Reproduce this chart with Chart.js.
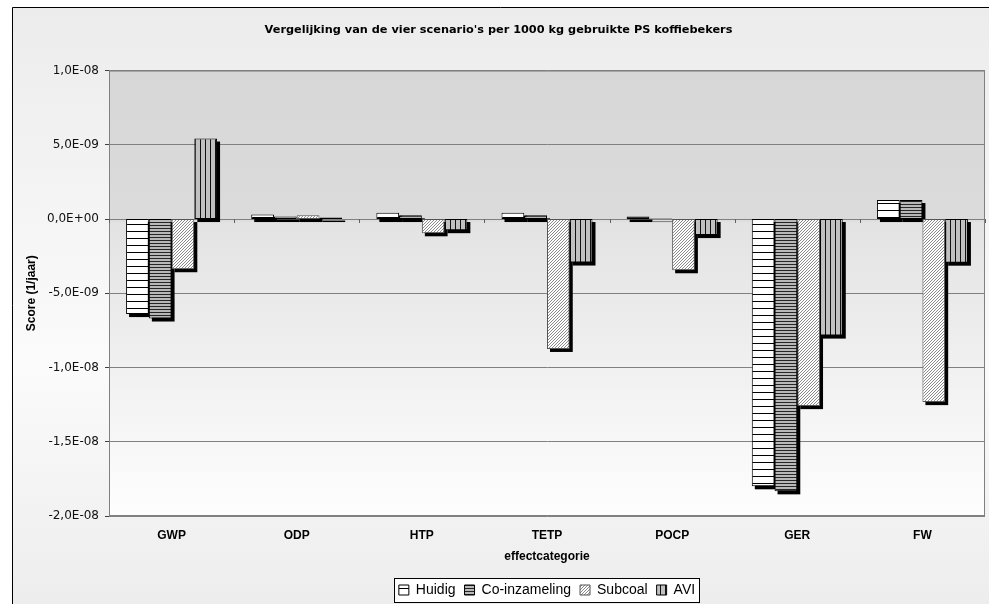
<!DOCTYPE html>
<html lang="nl">
<head>
<meta charset="UTF-8">
<title>Vergelijking van de vier scenario's</title>
<script src="https://cdn.jsdelivr.net/npm/chart.js"></script>
<style>
  body { margin: 0; background: #fff; }
  canvas { display: block; }
</style>
</head>
<body>
<canvas id="scenarioChart" width="989" height="604"></canvas>
<script>
const categories = ['GWP', 'ODP', 'HTP', 'TETP', 'POCP', 'GER', 'FW'];
const huidig = [-6.4e-9, 0.3e-9, 0.42e-9, 0.42e-9, 0.17e-9, -1.80e-8, 1.28e-9];
const coInzameling = [-6.7e-9, 0.17e-9, 0.25e-9, 0.25e-9, 0.03e-9, -1.834e-8, 1.28e-9];
const subcoal = [-3.38e-9, 0.25e-9, -0.96e-9, -8.75e-9, -3.45e-9, -1.26e-8, -1.233e-8];
const avi = [5.42e-9, 0.1e-9, -0.75e-9, -2.93e-9, -1.08e-9, -7.85e-9, -2.94e-9];

const canvas = document.getElementById('scenarioChart');
const ctx = canvas.getContext('2d');

// small tiles for the Excel-like fill patterns
function makePattern(w, h, paint) {
    const tile = document.createElement('canvas');
    tile.width = w;
    tile.height = h;
    paint(tile.getContext('2d'));
    return ctx.createPattern(tile, 'repeat');
}

const fillHuidig = makePattern(1, 7, g => {
    g.fillStyle = '#fff'; g.fillRect(0, 0, 1, 7);
    g.fillStyle = '#000'; g.fillRect(0, 0, 1, 1);
});
const fillCoInz = makePattern(1, 3, g => {
    g.fillStyle = '#b8b8b8'; g.fillRect(0, 0, 1, 3);
    g.fillStyle = '#262626'; g.fillRect(0, 0, 1, 1);
});
const fillSubcoal = makePattern(3, 3, g => {
    g.fillStyle = '#fff'; g.fillRect(0, 0, 3, 3);
    g.fillStyle = '#8a8a8a';
    g.fillRect(2, 0, 1, 1); g.fillRect(1, 1, 1, 1); g.fillRect(0, 2, 1, 1);
});
const fillAvi = makePattern(5, 1, g => {
    g.fillStyle = '#c0c0c0'; g.fillRect(0, 0, 5, 1);
    g.fillStyle = '#111'; g.fillRect(0, 0, 1, 1);
});

function sciLabel(v) {
    if (Math.abs(v) < 1e-15) v = 0;
    const parts = Number(v).toExponential(1).split('e');
    const exp = parseInt(parts[1], 10);
    return parts[0].replace('.', ',') + 'E' + (exp < 0 ? '-' : '+') + String(Math.abs(exp)).padStart(2, '0');
}

const backdrop = {
    id: 'backdrop',
    afterLayout(chart) {
        // Excel centres the legend under the plot area, not the whole chart
        const lg = chart.legend, a = chart.chartArea;
        const d = (a.left + a.right) / 2 - (lg.left + lg.right) / 2;
        lg.left += d;
        lg.right += d;
    },
    beforeDraw(chart) {
        const {ctx, width, height, chartArea: a} = chart;
        ctx.save();
        ctx.fillStyle = '#fff';
        ctx.fillRect(0, 0, width, height);
        let g = ctx.createLinearGradient(0, 7, 0, height);
        g.addColorStop(0, '#ececec');
        g.addColorStop(0.6, '#fbfbfb');
        g.addColorStop(1, '#ededed');
        ctx.fillStyle = g;
        ctx.fillRect(12, 7, width - 12, height - 7);
        ctx.strokeStyle = '#000';
        ctx.lineWidth = 1;
        ctx.beginPath();
        ctx.moveTo(12.5, height);
        ctx.lineTo(12.5, 7.5);
        ctx.lineTo(width, 7.5);
        ctx.stroke();

        // plot area
        const zeroFrac = (chart.scales.y.getPixelForValue(0) - a.top) / a.height;
        g = ctx.createLinearGradient(0, a.top, 0, a.bottom);
        g.addColorStop(0, '#d7d7d7');
        g.addColorStop(zeroFrac, '#dbdbdb');
        g.addColorStop(Math.min(zeroFrac + 0.01, 1), '#e3e3e3');
        g.addColorStop(1, '#fefefe');
        ctx.fillStyle = g;
        ctx.fillRect(a.left, a.top, a.width, a.height);
        ctx.strokeStyle = '#808080';
        ctx.strokeRect(a.left + 0.5, a.top + 0.5, a.width - 1, a.height - 1);

        // legend box
        const boxes = chart.legend.legendHitBoxes || [];
        if (boxes.length) {
            const left = Math.min(...boxes.map(b => b.left)) - 5;
            const right = Math.max(...boxes.map(b => b.left + b.width)) + 4;
            const top = boxes[0].top - 5;
            const bottom = boxes[0].top + boxes[0].height + 5;
            ctx.fillStyle = '#fff';
            ctx.fillRect(left, top, right - left, bottom - top);
            ctx.strokeStyle = '#000';
            ctx.strokeRect(Math.round(left) + 0.5, Math.round(top) + 0.5, Math.round(right - left), Math.round(bottom - top));
        }
        ctx.restore();
    }
};

const barShadow = {
    id: 'barShadow',
    beforeDatasetsDraw(chart) {
        const {ctx, chartArea: a} = chart;
        ctx.save();
        ctx.beginPath();
        ctx.rect(a.left, a.top, a.width, a.height);
        ctx.clip();
        ctx.fillStyle = '#000';
        chart.data.datasets.forEach((ds, i) => {
            chart.getDatasetMeta(i).data.forEach(bar => {
                const p = bar.getProps(['x', 'y', 'base', 'width'], true);
                const top = Math.min(p.y, p.base);
                ctx.fillRect(p.x - p.width / 2 + 3, top + 3, p.width, Math.abs(p.base - p.y));
            });
        });
        ctx.restore();
    },
    afterDatasetsDraw(chart) {
        // category tick marks sitting on the zero line
        const {ctx, scales: {x, y}} = chart;
        const y0 = Math.round(y.getPixelForValue(0));
        ctx.save();
        ctx.strokeStyle = '#606060';
        ctx.lineWidth = 1;
        ctx.beginPath();
        for (let i = 0; i <= categories.length; i++) {
            const px = Math.round(x.getPixelForValue(i - 0.5)) + 0.5;
            ctx.moveTo(px, y0);
            ctx.lineTo(px, y0 + 4);
        }
        ctx.stroke();
        ctx.restore();
    }
};

new Chart(ctx, {
    type: 'bar',
    data: {
        labels: categories,
        datasets: [
            { label: 'Huidig', data: huidig, backgroundColor: fillHuidig },
            { label: 'Co-inzameling', data: coInzameling, backgroundColor: fillCoInz },
            { label: 'Subcoal', data: subcoal, backgroundColor: fillSubcoal, borderColor: '#555' },
            { label: 'AVI', data: avi, backgroundColor: fillAvi }
        ]
    },
    options: {
        responsive: false,
        animation: false,
        layout: { padding: { left: 12, right: 4, top: 0, bottom: -3 } },
        datasets: {
            bar: {
                categoryPercentage: 0.727,
                barPercentage: 1,
                borderWidth: 1,
                borderColor: '#000',
                borderSkipped: false
            }
        },
        plugins: {
            title: {
                display: true,
                text: "Vergelijking van de vier scenario's per 1000 kg gebruikte PS koffiebekers",
                color: '#000',
                font: { family: 'DejaVu Sans', size: 11.3, weight: 'bold' },
                padding: { top: 23, bottom: 34 }
            },
            legend: {
                position: 'bottom',
                labels: {
                    color: '#000',
                    font: { family: 'Liberation Sans', size: 14 },
                    boxWidth: 10,
                    boxHeight: 10,
                    padding: 9
                }
            },
            tooltip: { enabled: false }
        },
        scales: {
            x: {
                grid: { display: false, drawTicks: false },
                border: { display: false },
                ticks: {
                    color: '#000',
                    font: { family: 'Liberation Sans', size: 12, weight: 'bold' },
                    padding: 12,
                    maxRotation: 0
                },
                title: {
                    display: true,
                    text: 'effectcategorie',
                    color: '#000',
                    font: { family: 'Liberation Sans', size: 12, weight: 'bold' },
                    padding: { top: 7, bottom: 10 }
                },
                afterFit(scale) { scale.height = 58; }
            },
            y: {
                min: -2e-8,
                max: 1e-8,
                ticks: {
                    stepSize: 5e-9,
                    callback: sciLabel,
                    color: '#111',
                    font: { family: 'DejaVu Sans', size: 12 },
                    padding: 6
                },
                grid: { color: '#808080', tickColor: '#404040', tickLength: 4 },
                border: { color: '#808080' },
                title: {
                    display: true,
                    text: 'Score (1/jaar)',
                    color: '#000',
                    font: { family: 'Liberation Sans', size: 12, weight: 'bold' },
                    padding: { top: 12, bottom: 0 }
                },
                afterFit(scale) { scale.width = 97; }
            }
        }
    },
    plugins: [backdrop, barShadow]
});
</script>
</body>
</html>
